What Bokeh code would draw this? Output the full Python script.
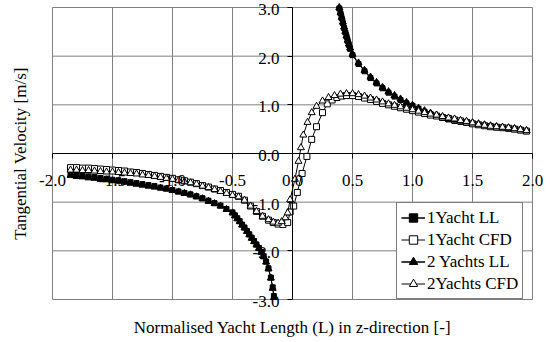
import math
from bokeh.plotting import figure
from bokeh.models import FixedTicker, CustomJSTickFormatter, Label, LinearAxis, Range1d
from bokeh.embed import file_html
from bokeh.resources import INLINE

# ---- data ----
ll1_x = [-1.85, -1.8, -1.75, -1.7, -1.65, -1.6, -1.55, -1.5, -1.45, -1.4, -1.35, -1.3, -1.25, -1.2,
         -1.15, -1.1, -1.05, -1.0, -0.95, -0.9, -0.85, -0.8, -0.75, -0.7, -0.65, -0.6, -0.55, -0.5,
         -0.48, -0.46, -0.44, -0.42, -0.4, -0.38, -0.36, -0.34, -0.32, -0.3, -0.28, -0.26, -0.24,
         -0.22, -0.2, -0.18, -0.165, -0.155]
ll1_y = [-0.42, -0.44, -0.45, -0.47, -0.48, -0.50, -0.52, -0.54, -0.55, -0.57, -0.59, -0.61, -0.63, -0.65,
         -0.67, -0.70, -0.72, -0.75, -0.78, -0.81, -0.84, -0.88, -0.92, -0.97, -1.02, -1.07, -1.14, -1.21,
         -1.27, -1.33, -1.39, -1.46, -1.52, -1.59, -1.66, -1.73, -1.80, -1.87, -1.94, -2.02, -2.11,
         -2.22, -2.36, -2.55, -2.75, -2.93]
ll1_xp = [0.39, 0.40, 0.41, 0.42, 0.43, 0.44, 0.45, 0.46, 0.47, 0.48, 0.5, 0.55, 0.6, 0.65, 0.7, 0.75,
          0.8, 0.85, 0.9, 0.95, 1.0, 1.05, 1.1, 1.15, 1.2, 1.25, 1.3, 1.35, 1.4, 1.45, 1.5, 1.55, 1.6,
          1.65, 1.7, 1.75, 1.8, 1.85, 1.9, 1.95]
ll1_yp = [2.98, 2.88, 2.78, 2.68, 2.58, 2.49, 2.40, 2.31, 2.23, 2.15, 2.02, 1.84, 1.69, 1.55, 1.44, 1.34,
          1.25, 1.17, 1.10, 1.03, 0.98, 0.92, 0.86, 0.81, 0.77, 0.73, 0.70, 0.67, 0.65, 0.63, 0.61, 0.59, 0.57,
          0.56, 0.54, 0.53, 0.51, 0.50, 0.48, 0.46]

ll2_x = ll1_x
ll2_y = [-0.45, -0.47, -0.48, -0.50, -0.51, -0.53, -0.54, -0.56, -0.57, -0.59, -0.61, -0.63, -0.65, -0.67,
         -0.69, -0.71, -0.73, -0.76, -0.79, -0.82, -0.85, -0.89, -0.93, -0.98, -1.03, -1.08, -1.15, -1.22,
         -1.28, -1.34, -1.40, -1.47, -1.53, -1.60, -1.67, -1.74, -1.81, -1.88, -1.95, -2.03, -2.12,
         -2.23, -2.37, -2.56, -2.77, -2.96]
ll2_xp = ll1_xp
ll2_yp = [3.00, 2.90, 2.80, 2.70, 2.60, 2.51, 2.42, 2.33, 2.25, 2.17, 2.04, 1.86, 1.71, 1.57, 1.46, 1.36,
          1.27, 1.19, 1.12, 1.05, 0.99, 0.93, 0.88, 0.83, 0.79, 0.75, 0.72, 0.69, 0.67, 0.65, 0.63, 0.61, 0.59,
          0.57, 0.55, 0.54, 0.52, 0.51, 0.49, 0.47]

cfd1_x = [-1.85, -1.8, -1.75, -1.7, -1.65, -1.6, -1.55, -1.5, -1.45, -1.4, -1.35, -1.3, -1.25, -1.2,
          -1.15, -1.1, -1.05, -1.0, -0.95, -0.9, -0.85, -0.8, -0.75, -0.7, -0.65, -0.6, -0.55, -0.5,
          -0.45, -0.4, -0.35, -0.3, -0.25, -0.2, -0.16, -0.12, -0.08, -0.04, -0.02, 0.01, 0.04, 0.08,
          0.12, 0.16, 0.2, 0.25, 0.29, 0.33, 0.37, 0.41, 0.45, 0.5, 0.55, 0.6, 0.65, 0.7, 0.75, 0.8,
          0.85, 0.9, 0.95, 1.0, 1.05, 1.1, 1.15, 1.2, 1.25, 1.3, 1.35, 1.4, 1.45, 1.5, 1.55, 1.6, 1.65,
          1.7, 1.75, 1.8, 1.85, 1.9, 1.95]
cfd1_y = [-0.29, -0.29, -0.30, -0.30, -0.31, -0.32, -0.33, -0.34, -0.35, -0.36, -0.38, -0.39, -0.41, -0.43,
          -0.45, -0.47, -0.49, -0.51, -0.54, -0.56, -0.59, -0.62, -0.66, -0.69, -0.73, -0.76, -0.80, -0.84,
          -0.88, -0.96, -1.08, -1.19, -1.29, -1.37, -1.42, -1.45, -1.46, -1.42, -1.20, -1.08, -0.80, -0.41,
          -0.06, 0.29, 0.55, 0.84, 1.02, 1.10, 1.15, 1.18, 1.19, 1.19, 1.17, 1.14, 1.11, 1.07, 1.03, 1.00,
          0.97, 0.94, 0.91, 0.88, 0.85, 0.82, 0.79, 0.77, 0.74, 0.72, 0.69, 0.67, 0.64, 0.61, 0.59, 0.57, 0.55,
          0.54, 0.53, 0.52, 0.50, 0.48, 0.46]

cfd2_x = [-1.85, -1.8, -1.75, -1.7, -1.65, -1.6, -1.55, -1.5, -1.45, -1.4, -1.35, -1.3, -1.25, -1.2,
          -1.15, -1.1, -1.05, -1.0, -0.95, -0.9, -0.85, -0.8, -0.75, -0.7, -0.65, -0.6, -0.55, -0.5,
          -0.45, -0.4, -0.35, -0.3, -0.25, -0.2, -0.16, -0.12, -0.09, -0.06, -0.04, -0.02, 0.02, 0.05,
          0.07, 0.09, 0.125, 0.16, 0.2, 0.25, 0.3, 0.35, 0.4, 0.45, 0.5, 0.55, 0.6, 0.65, 0.7, 0.75, 0.8,
          0.85, 0.9, 0.95, 1.0, 1.05, 1.1, 1.15, 1.2, 1.25, 1.3, 1.35, 1.4, 1.45, 1.5, 1.55, 1.6, 1.65,
          1.7, 1.75, 1.8, 1.85, 1.9, 1.95]
cfd2_y = [-0.34, -0.34, -0.35, -0.35, -0.36, -0.37, -0.38, -0.38, -0.39, -0.40, -0.41, -0.42, -0.44, -0.45,
          -0.47, -0.49, -0.51, -0.53, -0.55, -0.58, -0.60, -0.63, -0.67, -0.70, -0.74, -0.78, -0.82, -0.86,
          -0.89, -0.96, -1.08, -1.19, -1.29, -1.36, -1.41, -1.43, -1.40, -1.32, -1.22, -0.95, -0.53, -0.16,
          0.12, 0.38, 0.64, 0.84, 0.97, 1.08, 1.15, 1.19, 1.22, 1.23, 1.23, 1.21, 1.18, 1.14, 1.10, 1.06, 1.02,
          0.99, 0.96, 0.93, 0.90, 0.87, 0.84, 0.81, 0.79, 0.76, 0.73, 0.71, 0.68, 0.66, 0.63, 0.60, 0.58, 0.56,
          0.55, 0.54, 0.53, 0.51, 0.49, 0.47]

x_ticks = [-2.0, -1.5, -1.0, -0.5, 0.0, 0.5, 1.0, 1.5, 2.0]
y_ticks = [-3.0, -2.0, -1.0, 0.0, 1.0, 2.0, 3.0]
x_title = "Normalised Yacht Length (L) in z-direction [-]"
y_title = "Tangential Velocity [m/s]"
series_names = ["1Yacht LL", "1Yacht CFD", "2 Yachts LL", "2Yachts CFD"]

FONT = "Liberation Serif"
W, H = 551, 342
# plot box inside the canvas (pixels): left, right, top, bottom
BL, BR, BT, BB = 52, 532, 7, 299
xmin, xmax = x_ticks[0], x_ticks[-1]
ymin, ymax = y_ticks[0], y_ticks[-1]
sx = (BR - BL) / (xmax - xmin)
sy = (BB - BT) / (ymax - ymin)
x_range = Range1d(xmin - BL / sx, xmax + (W - BR) / sx)
y_range = Range1d(ymin - (H - BB) / sy, ymax + BT / sy)

p = figure(width=W, height=H, x_range=x_range, y_range=y_range,
           x_axis_location=None, y_axis_location=None,
           output_backend="svg", toolbar_location=None,
           min_border_left=0, min_border_right=0, min_border_top=0, min_border_bottom=0)
p.background_fill_color = "white"
p.border_fill_color = "white"
p.outline_line_color = None
p.xgrid.visible = False
p.ygrid.visible = False

# grid lines (the outer ones form the box)
p.segment(x0=x_ticks, y0=[ymin] * len(x_ticks), x1=x_ticks, y1=[ymax] * len(x_ticks),
          line_color="#808080", line_width=1)
p.segment(x0=[xmin] * len(y_ticks), y0=y_ticks, x1=[xmax] * len(y_ticks), y1=y_ticks,
          line_color="#808080", line_width=1)

# axes crossing at origin
xax = LinearAxis(fixed_location=0, bounds=(xmin, xmax), ticker=FixedTicker(ticks=x_ticks))
yax = LinearAxis(fixed_location=0, bounds=(ymin, ymax), ticker=FixedTicker(ticks=y_ticks))
for ax in (xax, yax):
    ax.axis_line_color = "black"
    ax.axis_line_width = 1
    ax.major_tick_line_color = "black"
    ax.major_tick_in = 0
    ax.major_tick_out = 5
    ax.minor_tick_line_color = None
    ax.formatter = CustomJSTickFormatter(code="return ''")
    ax.major_label_text_font_size = "0px"
p.add_layout(xax, "below")
p.add_layout(yax, "left")

for v in x_ticks:
    p.add_layout(Label(x=v, y=0.0, text="%.1f" % v, text_align="center", text_baseline="middle",
                       y_offset=-27, text_font=FONT, text_font_size="17px", text_color="black"))
for v in y_ticks:
    p.add_layout(Label(x=0.0, y=v, text="%.1f" % v, text_align="right", text_baseline="middle",
                       x_offset=-13, y_offset=-2, text_font=FONT, text_font_size="17px",
                       text_color="black"))

# axis titles
p.add_layout(Label(x=(BL + BR) / 2, y=H - 327, x_units="screen", y_units="screen", text=x_title,
                   text_align="center", text_baseline="middle", text_font=FONT,
                   text_font_size="17px", text_color="black"))
p.add_layout(Label(x=20, y=H - (BT + BB) / 2, x_units="screen", y_units="screen", text=y_title,
                   angle=math.pi / 2, text_align="center", text_baseline="middle", text_font=FONT,
                   text_font_size="17px", text_color="black"))

# series
lw = 1
p.line(ll1_x, ll1_y, color="black", line_width=lw, legend_label=series_names[0])
p.line(ll1_xp, ll1_yp, color="black", line_width=lw, legend_label=series_names[0])
p.scatter(ll1_x + ll1_xp, ll1_y + ll1_yp, marker="square", size=5, fill_color="black",
          line_color="black", legend_label=series_names[0])
p.line(cfd1_x, cfd1_y, color="black", line_width=lw, legend_label=series_names[1])
p.scatter(cfd1_x, cfd1_y, marker="square", size=6, fill_color="white",
          line_color="black", legend_label=series_names[1])
p.line(ll2_x, ll2_y, color="black", line_width=lw, legend_label=series_names[2])
p.line(ll2_xp, ll2_yp, color="black", line_width=lw, legend_label=series_names[2])
p.scatter(ll2_x + ll2_xp, ll2_y + ll2_yp, marker="triangle", size=7, fill_color="black",
          line_color="black", legend_label=series_names[2])
p.line(cfd2_x, cfd2_y, color="black", line_width=lw, legend_label=series_names[3])
p.scatter(cfd2_x, cfd2_y, marker="triangle", size=7, fill_color="white",
          line_color="black", legend_label=series_names[3])

lg = p.legend[0]
lg.location = (396, H - BB)
lg.margin = 0
lg.border_line_color = "black"
lg.border_line_width = 1
lg.background_fill_color = "white"
lg.background_fill_alpha = 1
lg.label_text_font = FONT
lg.label_text_font_size = "17px"
lg.label_text_color = "black"
lg.glyph_width = 24
lg.glyph_height = 21
lg.label_height = 21
lg.label_standoff = 2
lg.spacing = 1
lg.padding = 4

open("out.html", "w").write(file_html(p, INLINE))
